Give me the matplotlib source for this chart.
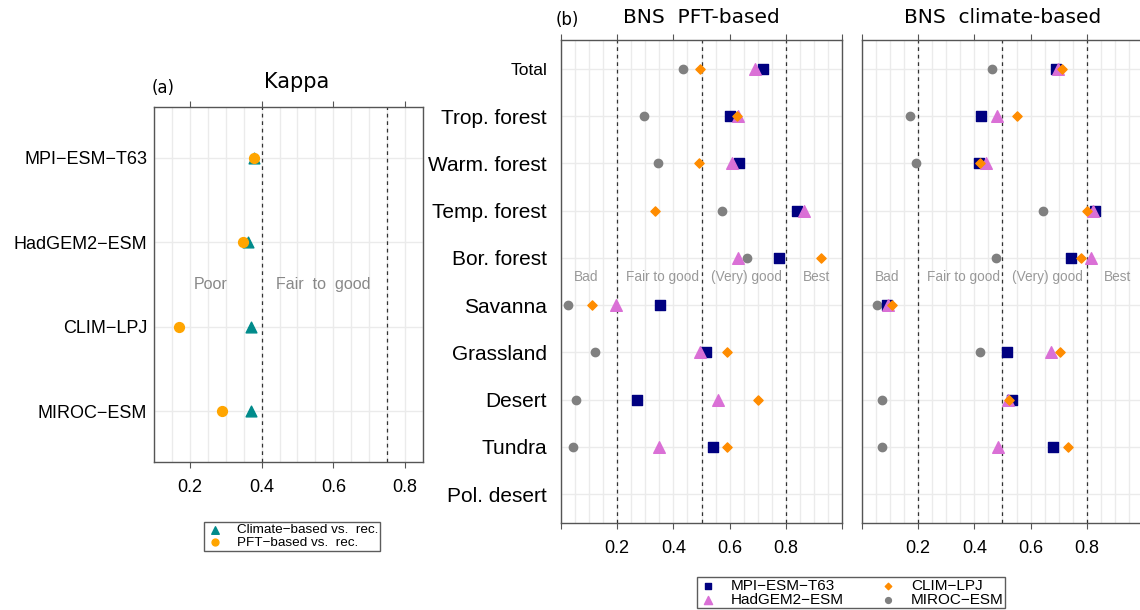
import numpy as np
import matplotlib
matplotlib.use("Agg")
import matplotlib.pyplot as plt

# panel (a): Kappa
kappa_models = ["MIROC\u2212ESM", "CLIM\u2212LPJ", "HadGEM2\u2212ESM", "MPI\u2212ESM\u2212T63"]
kappa_climate = [0.370, 0.370, 0.362, 0.380]
kappa_pft = [0.289, 0.169, 0.348, 0.379]

# panel (b): BNS, rows from bottom to top
biomes = ["Pol. desert", "Tundra", "Desert", "Grassland", "Savanna",
          "Bor. forest", "Temp. forest", "Warm. forest", "Trop. forest", "Total"]

pft_mpi = [np.nan, 0.542, 0.269, 0.515, 0.353, 0.776, 0.839, 0.632, 0.603, 0.719]
pft_had = [np.nan, 0.349, 0.557, 0.494, 0.194, 0.631, 0.866, 0.607, 0.631, 0.689]
pft_clim = [np.nan, 0.592, 0.701, 0.589, 0.109, 0.925, 0.333, 0.490, 0.628, 0.496]
pft_miroc = [np.nan, 0.043, 0.052, 0.120, 0.026, 0.662, 0.573, 0.346, 0.296, 0.435]

cli_mpi = [np.nan, 0.680, 0.534, 0.515, 0.090, 0.743, 0.829, 0.416, 0.423, 0.690]
cli_had = [np.nan, 0.483, 0.518, 0.672, 0.094, 0.816, 0.821, 0.440, 0.480, 0.699]
cli_clim = [np.nan, 0.732, 0.522, 0.705, 0.105, 0.781, 0.800, 0.419, 0.551, 0.710]
cli_miroc = [np.nan, 0.070, 0.070, 0.419, 0.052, 0.476, 0.645, 0.192, 0.172, 0.461]

SANS = ["Liberation Sans", "DejaVu Sans"]
GRID = "#ebebeb"
SPINE = "#555555"

fig = plt.figure(figsize=(11.4, 6.1), dpi=100)


def frame(ax, xlim, ylim, minor, ypad):
    ax.set_xlim(*xlim)
    ax.set_ylim(*ylim)
    ax.set_xticks(minor, minor=True)
    ax.grid(True, which="both", axis="x", color=GRID, lw=1)
    ax.grid(True, which="major", axis="y", color=GRID, lw=1)
    ax.set_axisbelow(True)
    ax.tick_params(axis="x", which="major", direction="out", length=4,
                   color=SPINE, top=True, labelsize=13, pad=8)
    ax.tick_params(axis="x", which="minor", length=0)
    ax.tick_params(axis="y", length=0, pad=ypad)
    for s in ax.spines.values():
        s.set_color(SPINE)
        s.set_linewidth(1)
    for lab in ax.get_xticklabels():
        lab.set_family(SANS)


# ---- panel (a)
axa = fig.add_axes([154 / 1140, 1 - 462 / 610, 269 / 1140, 355 / 610])
ya = np.arange(1, len(kappa_models) + 1)
axa.set_xticks([0.2, 0.4, 0.6, 0.8])
axa.set_yticks(ya)
axa.set_yticklabels(kappa_models, family=SANS, fontsize=13)
frame(axa, (0.1, 0.85), (0.4, 4.6), np.arange(0.1, 0.86, 0.05), 5)
for v in [0.4, 0.75]:
    axa.axvline(v, color="#333333", ls=(0, (3, 3)), lw=0.9)
axa.scatter(kappa_climate, ya, marker="^", s=60, color="#008b8b", zorder=3,
            label="Climate\u2212based vs.  rec.")
axa.scatter(kappa_pft, ya, marker="o", s=50, color="#ffa500", zorder=4,
            label="PFT\u2212based vs.  rec.")
axa.text(0.259, 2.5, "Poor", color="#888888", fontsize=11.5, family=SANS,
         ha="center", va="center")
axa.text(0.571, 2.5, "Fair  to  good", color="#888888", fontsize=11.5,
         family=SANS, ha="center", va="center")
leg = axa.legend(loc="upper center", bbox_to_anchor=(292 / 1140, 1 - 522 / 610),
                 bbox_transform=fig.transFigure, ncol=1, frameon=True,
                 fancybox=False, edgecolor="#333333",
                 prop={"family": SANS, "size": 9.7}, handletextpad=0.9,
                 borderpad=0.15, labelspacing=0.0, handlelength=1.4,
                 borderaxespad=0, markerscale=0.7)
leg.get_frame().set_linewidth(1)
fig.text(297 / 1140, 1 - 82 / 610, "Kappa", fontsize=15, ha="center", va="center")
fig.text(163 / 1140, 1 - 88 / 610, "(a)", fontsize=12, ha="center", va="center")

# ---- panel (b)
yb = np.arange(1, len(biomes) + 1)
series_b = [
    ("MIROC\u2212ESM", "o", 36, "#808080", 3),
    ("MPI\u2212ESM\u2212T63", "s", 45, "#000080", 4),
    ("HadGEM2\u2212ESM", "^", 70, "#da70d6", 5),
    ("CLIM\u2212LPJ", "D", 22, "#ff8c00", 6),
]
panels = [
    (561, "BNS  PFT-based", [pft_miroc, pft_mpi, pft_had, pft_clim]),
    (862, "BNS  climate-based", [cli_miroc, cli_mpi, cli_had, cli_clim]),
]
handles = {}
for i, (x0, title, data) in enumerate(panels):
    ax = fig.add_axes([x0 / 1140, 1 - 523 / 610, 281 / 1140, 483 / 610])
    ax.set_xticks(np.arange(0, 1.01, 0.2))
    ax.set_xticklabels(["", "0.2", "0.4", "0.6", "0.8", ""])
    ax.set_yticks(yb)
    if i == 0:
        ax.set_yticklabels(biomes, family=SANS, fontsize=15)
        ax.get_yticklabels()[-1].set_fontsize(12.5)
    else:
        ax.set_yticklabels([])
    frame(ax, (0, 1), (0.39, 10.61), np.arange(0, 1.01, 0.05), 10)
    for v in [0.2, 0.5, 0.8]:
        ax.axvline(v, color="#333333", ls=(0, (3, 3)), lw=0.9)
    for (name, mk, s, col, z), vals in zip(series_b, data):
        h = ax.scatter(vals, yb, marker=mk, s=s, color=col, zorder=z, label=name)
        handles[name] = h
    for xt, lab in [(0.089, "Bad"), (0.362, "Fair to good"),
                    (0.66, "(Very) good"), (0.908, "Best")]:
        ax.text(xt, 5.6, lab, color="#999999", fontsize=9.8, family=SANS,
                ha="center", va="center")
    ax.set_title(title, fontsize=14.5, pad=12)

fig.text(567 / 1140, 1 - 20 / 610, "(b)", fontsize=12, ha="center", va="center")

order = ["MPI\u2212ESM\u2212T63", "HadGEM2\u2212ESM", "CLIM\u2212LPJ", "MIROC\u2212ESM"]
legb = fig.legend([handles[n] for n in order], order, ncol=2,
                  loc="upper center", bbox_to_anchor=(851 / 1140, 1 - 577 / 610),
                  frameon=True, fancybox=False, edgecolor="#333333",
                  prop={"family": SANS, "size": 11}, handletextpad=0.9,
                  columnspacing=2.3, borderpad=0.1, labelspacing=0.0,
                  handlelength=1.2, borderaxespad=0, markerscale=0.7)
legb.get_frame().set_linewidth(1)

fig.savefig("out.png", dpi=100)
